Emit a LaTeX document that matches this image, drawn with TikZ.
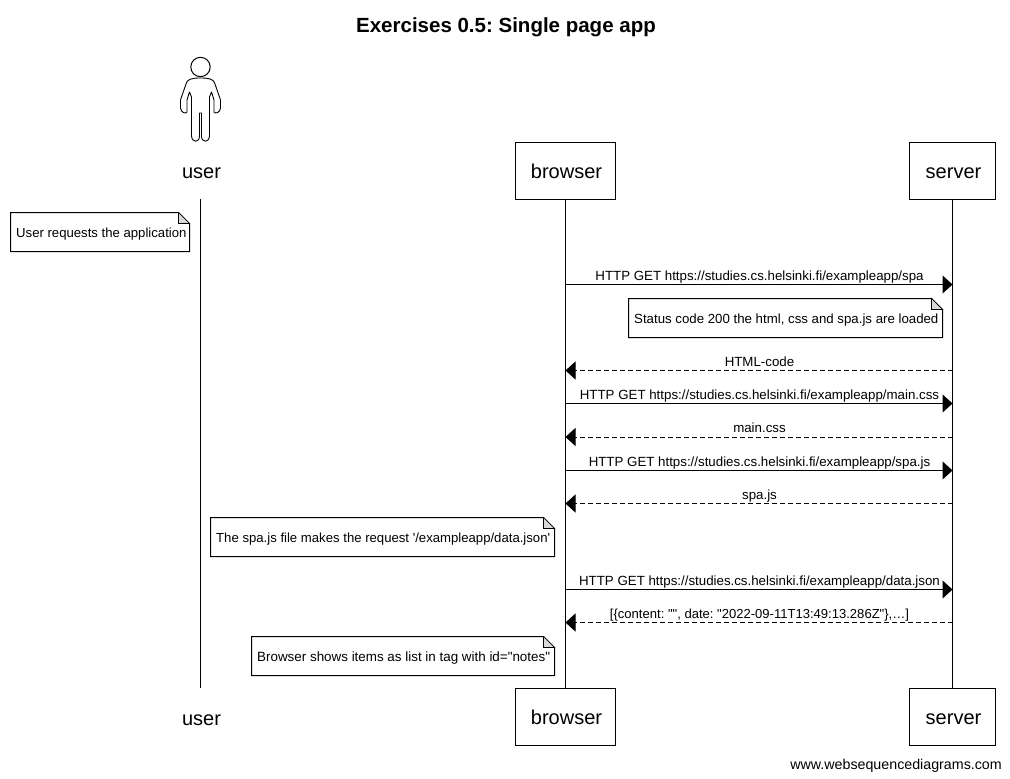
\documentclass[tikz,border=0pt]{standalone}
\usepackage{fontspec}
\defaultfontfeatures[\rmfamily]{}
\setmainfont{Liberation Sans}
\usetikzlibrary{arrows.meta}
\tikzset{
  x=1pt,y=-1pt,
  box/.style={draw=black,line width=1pt,fill=white,minimum width=#1,minimum height=57pt,inner sep=0pt,text height=14.5pt,text depth=0pt,font=\fontsize{20}{24}\selectfont,text=black},
  box/.default=86pt,
  plain/.style={inner sep=0pt,font=\fontsize{20}{24}\selectfont},
  msg/.style={line width=1pt,-{Triangle[length=10pt,width=18pt]}},
  ret/.style={msg,dash pattern=on 5pt off 3pt},
  lifeline/.style={line width=1pt},
  lbl/.style={inner sep=0pt,anchor=base,font=\fontsize{13.3}{15}\selectfont},
  notetext/.style={inner sep=0pt,anchor=base west,font=\fontsize{#1}{15}\selectfont},
  notetext/.default=13.15,
}
\newcommand{\notebox}[5]{% name, left, top, right, bottom
  \fill[white] (#2,#3) rectangle (#4,#5);
  \draw[line width=1pt,fill=white] (#2,#3) -- (#4-11,#3) -- (#4,#3+11) -- (#4,#5) -- (#2,#5) -- cycle;
  \draw[line width=.7pt,fill=white!85!black] (#4-11,#3) -- (#4-11,#3+11) -- (#4,#3+11) -- cycle;
  \coordinate (#1) at (#2,#5);
}
\begin{document}
\begin{tikzpicture}
\frenchspacing
\useasboundingbox (0,0) rectangle (1010,779);
\fill[white] (0,0) rectangle (1010,779);

\node[inner sep=0pt,font=\fontsize{20.5}{24}\selectfont\bfseries] (title) at (506,27) {Exercises 0.5: Single page app};

% participants
\node[plain,anchor=base] (usertop) at (201.5,178) {user};
\node[plain,anchor=base] (userbot) at (201.5,725) {user};
\node[box=100pt] (browsertop) at (565.5,171) {\kern2pt browser};
\node[box=100pt] (browserbot) at (565.5,717) {\kern2pt browser};
\node[box=86pt] (servertop) at (952.5,171) {\kern2pt server};
\node[box=86pt] (serverbot) at (952.5,717) {\kern2pt server};

% actor
\coordinate (userll) at (200.5,199);
\coordinate (userle) at (200.5,688);
\draw[line width=1pt] (200.5,67) circle (9.7);
\draw[line width=.9pt,line join=round,fill=white]
  (200.5,78) .. controls (192,78) and (187,79) .. (186,84)
  -- (180.5,100) -- (180.5,108)
  .. controls (181,113) and (186,114) .. (187,112)
  -- (187,100) -- (189.5,92) -- (191.5,97) -- (191.5,136)
  .. controls (192,143) and (199.5,143) .. (199.5,136)
  -- (199.5,113) -- (201.5,113) -- (201.5,136)
  .. controls (201.5,143) and (209,143) .. (209.5,136)
  -- (209.5,97) -- (211.5,92) -- (214,100) -- (214,112)
  .. controls (215,114) and (220,113) .. (220.5,108)
  -- (220.5,100) -- (215,84)
  .. controls (214,79) and (209,78) .. (200.5,78) -- cycle;

% lifelines
\draw[lifeline] (userll) -- (userle);
\draw[lifeline] (browsertop) -- (browserbot);
\draw[lifeline] (servertop) -- (serverbot);

% notes
\notebox{n1}{10.5}{212.5}{189.5}{251.5}
\node[notetext] (n1t) at (16,237) {User requests the application};
\notebox{n2}{628.5}{298.5}{942.5}{337.5}
\node[notetext=13.25] (n2t) at (634,323) {Status code 200 the html, css and spa.js are loaded};
\notebox{n3}{210.5}{517.5}{554.5}{556.5}
\node[notetext] (n3t) at (216,542) {The spa.js file makes the request '/exampleapp/data.json'};
\notebox{n4}{251.5}{636.5}{554.5}{675.5}
\node[notetext=13.4] (n4t) at (257,661) {Browser shows items as list in tag with id="notes"};

% messages
\foreach \nm/\y in {a/284.5,b/370.5,c/403.5,d/437,e/470.5,f/503.5,g/589.5,h/622.5}{
  \coordinate (b\nm) at (565.5,\y);
  \coordinate (s\nm) at (952.5,\y);
}
\draw[msg] (ba) -- (sa);
\draw[ret] (sb) -- (bb);
\draw[msg] (bc) -- (sc);
\draw[ret] (sd) -- (bd);
\draw[msg] (be) -- (se);
\draw[ret] (sf) -- (bf);
\draw[msg] (bg) -- (sg);
\draw[ret] (sh) -- (bh);

\node[lbl] (la) at (759.5,280) {HTTP GET https://studies.cs.helsinki.fi/exampleapp/spa};
\node[lbl] (lb) at (759.5,366) {HTML-code};
\node[lbl] (lc) at (759.5,399) {HTTP GET https://studies.cs.helsinki.fi/exampleapp/main.css};
\node[lbl] (ld) at (759.5,432) {main.css};
\node[lbl] (le) at (759.5,466) {HTTP GET https://studies.cs.helsinki.fi/exampleapp/spa.js};
\node[lbl] (lf) at (759.5,499) {spa.js};
\node[lbl] (lg) at (759.5,585) {HTTP GET https://studies.cs.helsinki.fi/exampleapp/data.json};
\node[lbl,font=\fontsize{13.05}{15}\selectfont] (lh) at (759.5,618) {[\{content: "", date: "2022-09-11T13:49:13.286Z"\},…]};

\node[inner sep=0pt,anchor=base east,font=\fontsize{14.25}{16}\selectfont] (wm) at (1002,769) {www.websequencediagrams.com};
\end{tikzpicture}
\end{document}
